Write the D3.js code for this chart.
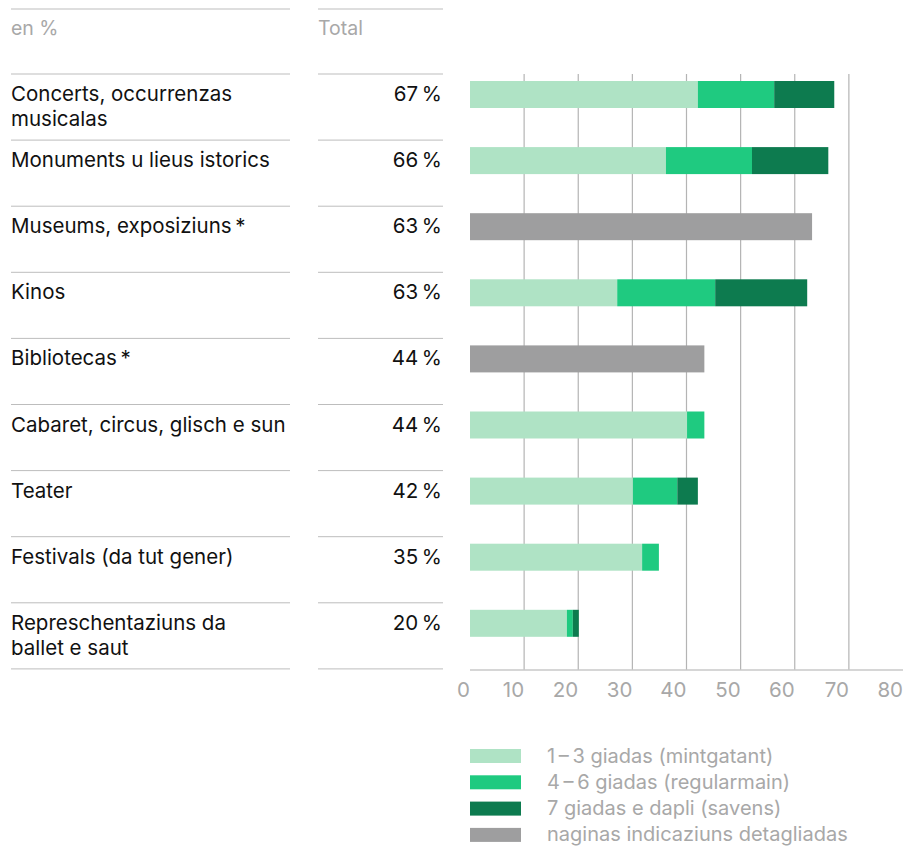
<!DOCTYPE html>
<html><head><meta charset="utf-8">
<script src="https://cdn.jsdelivr.net/npm/d3@7"></script>
<style>body{margin:0;background:#fff}svg{display:block}text{font-family:Inter,"Liberation Sans",Arial,sans-serif}</style>
</head><body><div id="c"></div>
<script>
const categories = ["Concerts, occurrenzas\nmusicalas","Monuments u lieus istorics","Museums, exposiziuns\u2009*","Kinos","Bibliotecas\u2009*","Cabaret, circus, glisch e sun","Teater","Festivals (da tut gener)","Represchentaziuns da\nballet e saut"];
const totals = [67,66,63,63,44,44,42,35,20];
const seriesNames = ["1\u2009\u2013\u20093 giadas (mintgatant)","4\u2009\u2013\u20096 giadas (regularmain)","7 giadas e dapli (savens)","naginas indicaziuns detagliadas"];
const s1 = [42.1,36.2,0,27.2,0,40.1,30.1,31.8,17.9];
const s2 = [14.1,15.9,0,18.1,0,3.2,8.2,3.1,1.1];
const s3 = [11.1,14.1,0,17.0,0,0,3.8,0,1.1];
const s4 = [0,0,63.2,0,43.3,0,0,0,0];
const xTicks = [0,10,20,30,40,50,60,70,80];
const colors = ["#afe3c5","#1fca80","#0d7b4f","#9e9e9f"];

const W=906,H=846;
const svg=d3.select("#c").append("svg").attr("width",W).attr("height",H);
const x=d3.scaleLinear().domain([0,80]).range([470,903]);
const rowTop=74, rowH=66.1;
const y=d3.scaleBand().domain(d3.range(categories.length)).range([rowTop,rowTop+rowH*categories.length]).paddingInner(0).paddingOuter(0);

// grid
svg.append("g").selectAll("line").data(xTicks.filter(d=>d>0&&d<80)).join("line")
 .attr("x1",d=>x(d)).attr("x2",d=>x(d)).attr("y1",rowTop).attr("y2",670)
 .attr("stroke","#b4b4b4").attr("stroke-width",1.2);

// table lines
const lineCol="#bdbdbd";
[9].concat(d3.range(categories.length+1).map(i=>rowTop+i*rowH)).forEach(yy=>{
  svg.append("line").attr("x1",11).attr("x2",290).attr("y1",yy).attr("y2",yy).attr("stroke",lineCol).attr("stroke-width",1);
  svg.append("line").attr("x1",318).attr("x2",443).attr("y1",yy).attr("y2",yy).attr("stroke",lineCol).attr("stroke-width",1);
});
svg.append("text").attr("x",11).attr("y",35).attr("font-size",19.5).attr("fill","#a8a8a8").text("en %");
svg.append("text").attr("x",318).attr("y",35).attr("font-size",19.5).attr("fill","#a8a8a8").text("Total");

// labels
const lab=svg.append("g");
categories.forEach((c,i)=>{
  const t=lab.append("text").attr("x",11).attr("y",y(i)+27).attr("font-size",20.5).attr("fill","#111");
  c.split("\n").forEach((ln,j)=>t.append("tspan").attr("x",11).attr("dy",j?25:0).text(ln));
  lab.append("text").attr("x",442).attr("y",y(i)+27).attr("font-size",20.5).attr("fill","#111").attr("text-anchor","end").text(totals[i]+"\u2009%");
});

// stacked bars
const rows=categories.map((c,i)=>({i,v:[s1[i],s2[i],s3[i],s4[i]]}));
const stack=d3.stack().keys([0,1,2,3]).value((d,k)=>d.v[k]);
const layers=stack(rows);
const barH=27, barOff=7;
svg.append("g").selectAll("g").data(layers).join("g").attr("fill",(d,k)=>colors[k])
 .selectAll("rect").data(d=>d.filter(p=>p[1]-p[0]>0)).join("rect")
 .attr("x",p=>x(p[0])).attr("width",p=>x(p[1])-x(p[0]))
 .attr("y",p=>y(p.data.i)+barOff).attr("height",barH);

// axis line
svg.append("line").attr("x1",470).attr("x2",903).attr("y1",670).attr("y2",670).attr("stroke","#c8c8c8").attr("stroke-width",1.5);
svg.append("g").selectAll("text").data(xTicks).join("text")
 .attr("x",d=>x(d)).attr("y",697).attr("text-anchor","end").attr("font-size",20.5).attr("fill","#a8a8a8").text(d=>d);

// legend
const lg=svg.append("g");
seriesNames.forEach((n,k)=>{
  const yy=749+k*26.3;
  lg.append("rect").attr("x",470).attr("y",yy).attr("width",51).attr("height",14).attr("fill",colors[k]);
  lg.append("text").attr("x",547).attr("y",yy+13.5).attr("font-size",20).attr("fill","#a8a8a8").text(n);
});
</script></body></html>
